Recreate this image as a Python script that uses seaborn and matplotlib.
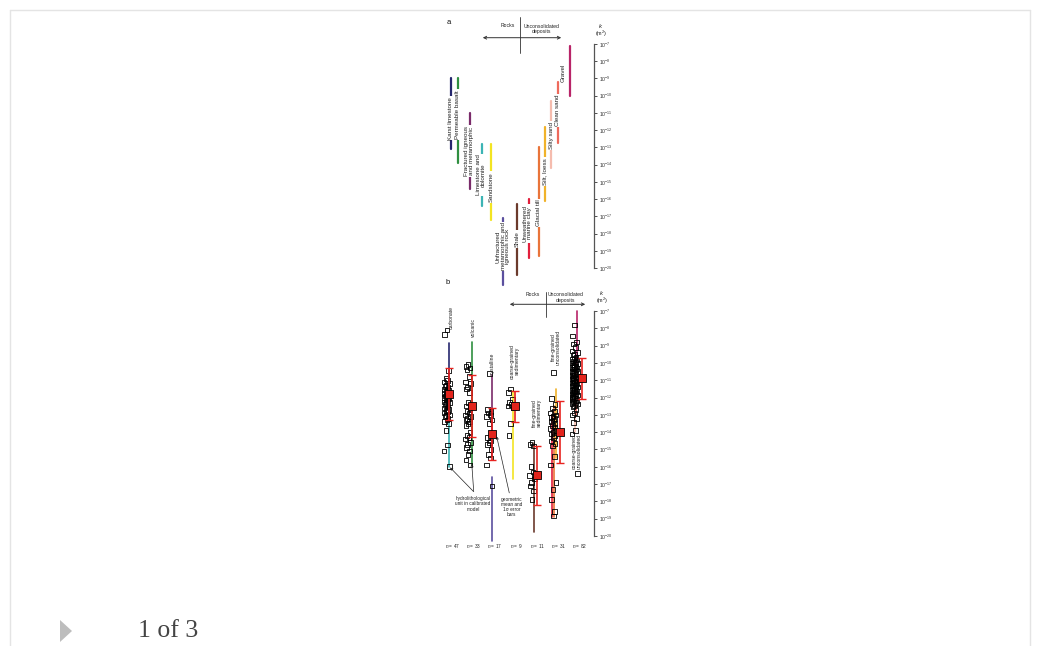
import numpy as np
import pandas as pd
import matplotlib
matplotlib.use("Agg")
import matplotlib.pyplot as plt
import seaborn as sns
from matplotlib.ticker import FixedLocator, FuncFormatter, NullLocator
from matplotlib.lines import Line2D
from matplotlib.patches import Polygon, FancyArrowPatch

sns.set_theme(style="white")
plt.rcParams["font.family"] = ["Liberation Sans", "DejaVu Sans"]
plt.rcParams["mathtext.fontset"] = "custom"
plt.rcParams["mathtext.rm"] = "Liberation Sans"
plt.rcParams["mathtext.it"] = "Liberation Sans:italic"

# ---------------- panel a: typical permeability ranges, log10 k (m^2) ----------------
materials_a = ["Karst limestone", "Permeable basalt", "Fractured igneous\nand metamorphic",
               "Limestone and\ndolomite", "Sandstone",
               "Unfractured\nmetamorphic and\nigneous rock", "Shale",
               "Unweathered\nmarine clay", "Glacial till", "Silt, loess",
               "Silty sand", "Clean sand", "Gravel"]
logk_low_a = [-13.1, -13.9, -15.4, -16.4, -17.2, -21.0, -20.4, -19.4, -19.3, -16.1, -14.2, -12.75, -10.0]
logk_high_a = [-9.0, -9.0, -11.0, -12.8, -12.8, -17.1, -16.3, -16.0, -13.0, -11.8, -10.3, -9.2, -7.1]
colors_a = ["#26276e", "#2f8f40", "#7a2b6a", "#3cb4b4", "#f3e422", "#5b4f9e", "#6b3a2c",
            "#e21f3c", "#e9743a", "#f0b22a", "#f5bcae", "#ee6a5c", "#b82468"]

# ---------------- panel b: calibrated model permeabilities by hydrolithology ----------------
groups_b = ["carbonate", "volcanic", "crystalline", "coarse-grained\nsedimentary",
            "fine-grained\nsedimentary", "fine-grained\nunconsolidated",
            "coarse-grained\nunconsolidated"]
carbonate_k = [-8.1, -8.35, -10.45, -10.9, -11.0, -11.1, -11.2, -11.3, -11.35, -11.4, -11.5, -11.55,
               -11.6, -11.65, -11.7, -11.75, -11.8, -11.85, -11.9, -11.95, -12.0, -12.0, -12.05,
               -12.1, -12.2, -12.25, -12.3, -12.35, -12.4, -12.5, -12.55, -12.6, -12.7, -12.75,
               -12.8, -12.9, -13.0, -13.05, -13.1, -13.2, -13.3, -13.4, -13.5, -13.9, -14.75,
               -15.1, -16.0]
volcanic_k = [-10.1, -10.2, -10.3, -10.4, -10.8, -11.1, -11.2, -11.4, -11.5, -11.7, -12.3, -12.5,
              -12.7, -12.8, -12.9, -13.0, -13.1, -13.2, -13.3, -13.4, -13.5, -13.6, -14.0, -14.2,
              -14.3, -14.4, -14.6, -14.7, -14.9, -15.1, -15.3, -15.6, -15.9]
crystalline_k = [-10.6, -12.7, -12.8, -12.9, -13.0, -13.1, -13.3, -13.5, -14.3, -14.5, -14.6,
                 -14.7, -15.0, -15.3, -15.5, -15.9, -17.1]
coarse_sed_k = [-11.5, -11.7, -12.1, -12.3, -12.4, -12.5, -12.6, -13.5, -14.2]
fine_sed_k = [-14.6, -14.7, -14.8, -16.0, -16.3, -16.5, -16.7, -16.9, -17.1, -17.4, -17.9]
fine_uncons_k = [-10.55, -12.05, -12.4, -12.6, -12.8, -12.9, -13.0, -13.1, -13.15, -13.2, -13.3,
                 -13.4, -13.5, -13.6, -13.7, -13.8, -13.9, -14.0, -14.1, -14.2, -14.3, -14.5,
                 -14.65, -14.8, -15.4, -15.9, -16.9, -17.3, -17.9, -18.6, -18.85]
coarse_uncons_k = [-7.8, -8.45, -8.8, -8.9, -9.1, -9.3, -9.4, -9.5, -9.55, -9.65,
                   -9.72, -9.78, -9.83, -9.9, -9.96, -10.0, -10.04, -10.1, -10.13, -10.2,
                   -10.22, -10.27, -10.33, -10.36, -10.42, -10.48, -10.5, -10.55, -10.61, -10.64,
                   -10.7, -10.74, -10.8, -10.83, -10.88, -10.93, -10.97, -11.0, -11.03, -11.08,
                   -11.12, -11.17, -11.2, -11.26, -11.3, -11.33, -11.38, -11.44, -11.5, -11.52,
                   -11.58, -11.6, -11.66, -11.71, -11.77, -11.8, -11.86, -11.9, -11.95, -12.02,
                   -12.06, -12.12, -12.18, -12.23, -12.28, -12.33, -12.38, -12.45, -12.55, -12.7,
                   -12.9, -13.0, -13.2, -13.45, -13.9, -14.1, -16.4, -10.25, -10.9, -11.4,
                   -11.62, -12.0]
values_b = [carbonate_k, volcanic_k, crystalline_k, coarse_sed_k, fine_sed_k,
            fine_uncons_k, coarse_uncons_k]
geo_mean_b = [-11.8, -12.5, -14.1, -12.5, -16.5, -14.0, -10.9]
sigma_b = [1.5, 1.8, 1.5, 0.9, 1.7, 1.8, 1.2]

# calibrated hydrolithological unit ranges drawn behind each group
unit_group_b = [0, 0, 1, 2, 2, 3, 4, 5, 5, 5, 6, 6, 6]
unit_low_b = [-13.0, -16.0, -15.9, -15.4, -20.3, -16.7, -19.75, -18.9, -18.9, -15.5, -14.0, -13.0, -10.0]
unit_high_b = [-8.85, -13.0, -8.8, -10.7, -16.6, -11.6, -14.6, -13.0, -12.5, -11.5, -10.0, -9.6, -7.0]
unit_color_b = ["#26276e", "#3cb4b4", "#2f8f40", "#7a2b6a", "#5b4f9e", "#f3e422", "#6b3a2c",
                "#e21f3c", "#e9743a", "#f0b22a", "#f5bcae", "#ee6a5c", "#b82468"]

# ---------------- layout ----------------
W, H = 1039, 646
fig = plt.figure(figsize=(W / 100, H / 100), dpi=100)
fig.patch.set_facecolor("white")


def fx(x):
    return x / W


def fy(y):
    return 1 - y / H


def px_axes(x0, y0, x1, y1):
    return fig.add_axes([fx(x0), fy(y1), (x1 - x0) / W, (y1 - y0) / H])


def style_k_axis(ax):
    ax.set_yscale("log")
    ax.set_ylim(10 ** -21.5, 10 ** -5.5)
    for s in ["left", "top", "bottom"]:
        ax.spines[s].set_visible(False)
    ax.spines["right"].set_visible(True)
    ax.spines["right"].set_color("#555555")
    ax.spines["right"].set_linewidth(0.9)
    ax.spines["right"].set_bounds(1e-20, 1e-7)
    ax.yaxis.tick_right()
    ax.yaxis.set_major_locator(FixedLocator(10.0 ** np.arange(-20, -6)))
    ax.yaxis.set_minor_locator(NullLocator())
    ax.yaxis.set_major_formatter(FuncFormatter(
        lambda v, _: "$10^{%d}$" % int(round(np.log10(v)))))
    ax.tick_params(axis="y", which="major", direction="out", length=2.2, width=0.6,
                   pad=1.2, labelsize=3.7, colors="#333333")
    ax.set_xticks([])
    ax.set_xlabel("")
    ax.set_ylabel("")
    ax.patch.set_alpha(0)


# slot positions of panel a columns and their labels
slot_a = [10.5, 17.7, 30, 42, 51, 63, 77, 89, 98.5, 105, 111, 117.5, 130]
label_x_a = [10.5, 17.7, 29, 41, 51, 63, 77, 87.5, 98.5, 105, 111, 117.5, 123.5]
label_y_a = [-11.3, -11.1, -13.2, -14.6, -15.3, -18.75, -18.3, -17.4, -16.8, -14.4, -12.3, -10.85, -8.65]
label_gap_a = [True] * 12 + [False]

ax_a = px_axes(440, 44 - 1.5 * 17.23, 594, 268 + 1.5 * 17.23)
ax_a.set_yscale("log")
rng_a = pd.DataFrame({
    "material": np.repeat(materials_a, 2),
    "slot": np.repeat(slot_a, 2),
    "k": 10.0 ** np.ravel(np.column_stack([logk_low_a, logk_high_a])),
})
sns.lineplot(data=rng_a, x="slot", y="k", hue="material", units="material", estimator=None,
             palette=dict(zip(materials_a, colors_a)), legend=False, sort=False,
             linewidth=1.6, ax=ax_a)
ax_a.set_xlim(0, 154)
style_k_axis(ax_a)
for name, xl, yl, gap in zip(materials_a, label_x_a, label_y_a, label_gap_a):
    kw = dict(bbox=dict(boxstyle="square,pad=0.15", fc="white", ec="none")) if gap else {}
    ax_a.text(xl, 10 ** yl, name, rotation=90, ha="center", va="center", fontsize=4.5,
              color="#222222", linespacing=1.0, zorder=5, clip_on=False, **kw)

# panel b: groups on an index axis
col_px0, col_dx = 449.0, 21.3
ax_b = px_axes(440, 311 - 1.5 * 17.31, 594, 536 + 1.5 * 17.31)
ax_b.set_yscale("log")

unit_offset_b = [0.02, 0.02, 0.07, 0.04, 0.04, 0.0, 0.0, -0.16, -0.08, 0.0, -0.1, -0.05, 0.0]
seg = pd.DataFrame({
    "unit": np.repeat(np.arange(len(unit_group_b)), 2),
    "x": np.repeat(np.array(unit_group_b) + np.array(unit_offset_b), 2),
    "k": 10.0 ** np.ravel(np.column_stack([unit_low_b, unit_high_b])),
})
sns.lineplot(data=seg, x="x", y="k", hue="unit", units="unit", estimator=None,
             palette=dict(enumerate(unit_color_b)), legend=False, sort=False,
             linewidth=1.2, ax=ax_b, zorder=1)

# individual model values (open squares), spread slightly left of each column
spread = [-0.10, -0.20, -0.02, -0.15, -0.06, -0.23, 0.02, -0.12, -0.18, -0.04]
pts = []
for gi, vals in enumerate(values_b):
    for j, v in enumerate(vals):
        pts.append((gi + spread[j % len(spread)], 10.0 ** v))
pts = pd.DataFrame(pts, columns=["x", "k"])
sns.scatterplot(data=pts, x="x", y="k", marker="s", s=11, facecolors="none",
                edgecolors="black", linewidth=0.6, ax=ax_b, zorder=3)

# geometric mean and 1 sigma error bars
mean_offset_b = [0.02, 0.07, 0.04, 0.1, 0.12, 0.22, 0.25]
mx = np.arange(len(groups_b)) + np.array(mean_offset_b)
gm = np.array(geo_mean_b)
sg = np.array(sigma_b)
ax_b.errorbar(mx, 10.0 ** gm, yerr=[10.0 ** gm - 10.0 ** (gm - sg), 10.0 ** (gm + sg) - 10.0 ** gm],
              fmt="none", ecolor="#e8231f", elinewidth=1.2, capsize=2.6, capthick=1.0, zorder=4)
sns.scatterplot(x=mx, y=10.0 ** gm, marker="s", s=26, color="#e3241c", edgecolor="black",
                linewidth=0.6, ax=ax_b, zorder=5)
ax_b.set_xlim((440 - col_px0) / col_dx, (594 - col_px0) / col_dx)
style_k_axis(ax_b)

# group labels
glabel_x = [0.12, 1.16, 2.02, 3.1, 4.13, 5.02, 6.01]
glabel_y = [-7.35, -7.95, -10.1, -9.89, -12.9, -9.08, -15.09]
for name, xl, yl in zip(groups_b, glabel_x, glabel_y):
    ax_b.text(xl, 10 ** yl, name, rotation=90, ha="center", va="center", fontsize=3.7,
              color="#222222", linespacing=1.0, zorder=6, clip_on=False)

# sample counts
for gi, vals in enumerate(values_b):
    ax_b.text(gi + 0.15, 10 ** -20.58, "$n$ = %d" % len(vals), ha="center", va="center",
              fontsize=3.4, color="#222222", clip_on=False)

# explanatory notes with arrows
ax_b.text(1.13, 10 ** -18.15, "hydrolithological\nunit in calibrated\nmodel", ha="center",
          va="center", fontsize=3.4, color="#222222", linespacing=1.05, clip_on=False)
arrow_kw = dict(arrowstyle="->", lw=0.5, color="#222222", shrinkA=0, shrinkB=0,
                mutation_scale=4)
ax_b.annotate("", xy=(0.05, 10 ** -16.04), xytext=(1.15, 10 ** -17.43), arrowprops=arrow_kw,
              annotation_clip=False)
ax_b.annotate("", xy=(1.07, 10 ** -15.84), xytext=(1.16, 10 ** -17.43), arrowprops=arrow_kw,
              annotation_clip=False)
ax_b.text(2.94, 10 ** -18.32, "geometric\nmean and\n1\u03c3 error\nbars", ha="center",
          va="center", fontsize=3.4, color="#222222", linespacing=1.05, clip_on=False)
ax_b.annotate("", xy=(2.24, 10 ** -14.25), xytext=(2.83, 10 ** -17.51), arrowprops=arrow_kw,
              annotation_clip=False)


# ---------------- headers of both panels ----------------
def header(y_arrow, x_left, x_right, x_div, y_div0, y_div1, x_rocks, x_uncons, y_text,
           x_k, y_k, letter, x_letter, y_letter):
    fig.add_artist(Line2D([fx(x_div)] * 2, [fy(y_div0), fy(y_div1)], color="#333333", lw=0.6))
    fig.add_artist(FancyArrowPatch(
        (fx(x_left), fy(y_arrow)), (fx(x_right), fy(y_arrow)), transform=fig.transFigure,
        arrowstyle="<->", mutation_scale=5, lw=0.7, color="#333333"))
    fig.text(fx(x_rocks), fy(y_text), "Rocks", ha="right", va="center", fontsize=3.7,
             color="#222222")
    fig.text(fx(x_uncons), fy(y_text - 1.8), "Unconsolidated\ndeposits", ha="center", va="top",
             fontsize=3.7, color="#222222", linespacing=1.05)
    fig.text(fx(x_k), fy(y_k), "$k$", ha="center", va="center", fontsize=4.3, color="#222222")
    fig.text(fx(x_k), fy(y_k + 8), "(m$^2$)", ha="center", va="center", fontsize=4.0,
             color="#222222")
    fig.text(fx(x_letter), fy(y_letter), letter, ha="center", va="center", fontsize=5.5,
             color="#111111")


header(37.7, 480, 564, 520, 17, 53, 515, 541.5, 25.7, 601, 25.5, "a", 449, 22.5)
header(304.3, 507, 588, 546, 291.5, 316.5, 540, 566, 294.3, 602, 293, "b", 448, 283)

# ---------------- surrounding page ----------------
fig.add_artist(Line2D([fx(10), fx(1030)], [fy(10), fy(10)], color="#e4e4e4", lw=1.0))
fig.add_artist(Line2D([fx(10), fx(10)], [fy(10), fy(646)], color="#e4e4e4", lw=1.0))
fig.add_artist(Line2D([fx(1030), fx(1030)], [fy(10), fy(646)], color="#e4e4e4", lw=1.0))
fig.add_artist(Polygon([[fx(60), fy(620)], [fx(60), fy(642)], [fx(72), fy(631)]],
                       closed=True, transform=fig.transFigure, fc="#bdbdbd", ec="none"))
fig.text(fx(138), fy(631), "1 of 3", ha="left", va="center", fontsize=18.5,
         family="Liberation Serif", color="#444444")

fig.savefig("out.png", dpi=100, facecolor="white")
